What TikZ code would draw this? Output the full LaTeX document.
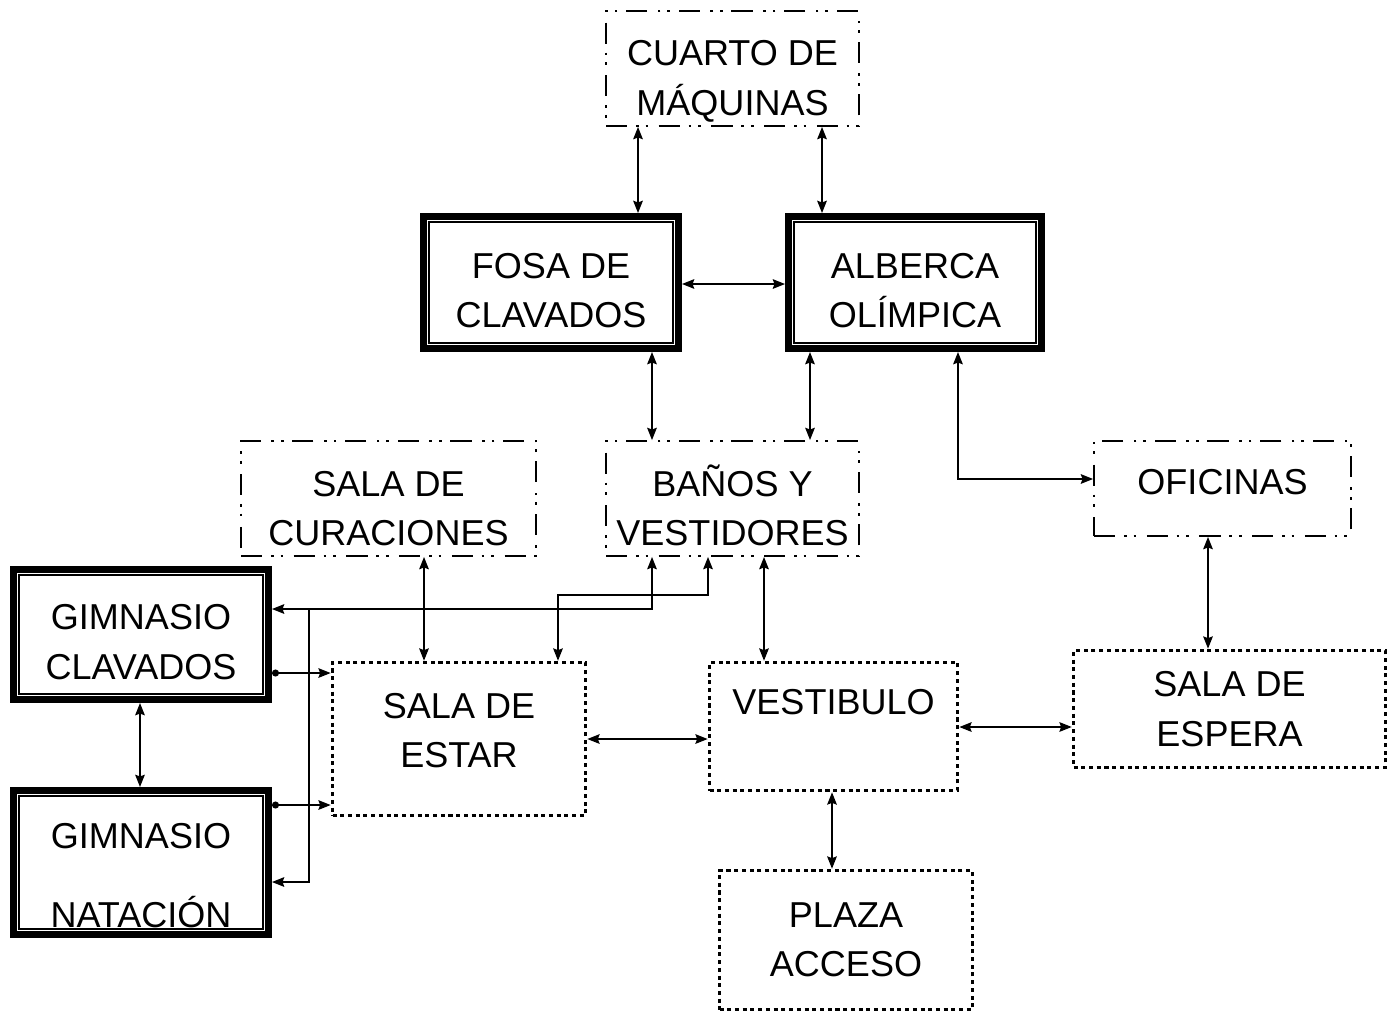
\documentclass[tikz,border=0pt]{standalone}
\usepackage{fontspec}
\setmainfont{Liberation Sans}
\usetikzlibrary{arrows.meta}

\begin{document}
\begin{tikzpicture}[
            x=0.02cm,
            y=-0.02cm,
            line cap=butt,
            >={Stealth[length=7pt,width=5.5pt,inset=1pt]},
            room/.style={
                align=center,
                inner sep=0pt,
                font=\fontsize{20.5}{28}\selectfont
            },
            heavybox/.style={
                room, draw, line width=4pt,
                path picture={
                    \draw[line width=0.8pt]
                        ([shift={(0.11cm,-0.11cm)}]path picture bounding box.north west)
                        rectangle
                        ([shift={(-0.11cm,0.11cm)}]path picture bounding box.south east);
                }
            },
            dashbox/.style={
                room, draw, line width=1.1pt,
                dash pattern=on 12pt off 5pt on 1.5pt off 4pt on 1.5pt off 6pt
            },
            dotbox/.style={
                room, draw, line width=2.1pt,
                dash pattern=on 2.3pt off 2.1pt
            },
            link/.style={<->, line width=0.8pt},
            dotlink/.style={{Circle[length=4pt]}->, line width=0.8pt}
        ]

        \useasboundingbox (0,0) rectangle (1399,1015);

        % Upper rooms
        \node[dashbox, text height=57pt, minimum width=5.06cm, minimum height=2.3cm]
            (cuarto) at (732.5,68.5) {CUARTO DE\\MÁQUINAS};
        \node[heavybox, text height=51.5pt, minimum width=5.1cm, minimum height=2.64cm]
            (fosa) at (551,282.5) {FOSA DE\\CLAVADOS};
        \node[heavybox, text height=51.5pt, minimum width=5.06cm, minimum height=2.64cm]
            (alberca) at (915,282.5) {ALBERCA\\OLÍMPICA};

        % Middle row
        \node[dashbox, text height=54pt, minimum width=5.9cm, minimum height=2.3cm]
            (curac) at (388.5,498.5) {SALA DE\\CURACIONES};
        \node[dashbox, text height=53.5pt, minimum width=5.06cm, minimum height=2.3cm]
            (banos) at (732.5,498.5) {BAÑOS Y\\VESTIDORES};
        \node[dashbox, text depth=8pt, minimum width=5.14cm, minimum height=1.9cm]
            (ofic) at (1222.5,488.5) {OFICINAS};

        % Gyms
        \node[heavybox, text height=51pt, minimum width=5.1cm, minimum height=2.6cm]
            (gimcla) at (141,634.5) {GIMNASIO\\CLAVADOS};
        \node[heavybox, text height=74pt, minimum width=5.1cm, minimum height=2.88cm]
            (gimnat) at (141,862.5) {GIMNASIO\\[17pt]NATACIÓN};

        % Lower rooms
        \node[dotbox, text depth=10pt, minimum width=5.06cm, minimum height=3.06cm]
            (estar) at (459,739) {SALA DE\\ESTAR};
        \node[dotbox, minimum width=4.96cm, minimum height=2.56cm]
            (vestib) at (833.5,726.5) {VESTIBULO\\\mbox{}};
        \node[dotbox, minimum width=6.24cm, minimum height=2.34cm]
            (espera) at (1229.5,709) {SALA DE\\ESPERA};
        \node[dotbox, minimum width=5.06cm, minimum height=2.78cm]
            (plaza) at (846,940) {PLAZA\\ACCESO};

        % Connections around the pools
        \draw[link] (cuarto.south -| 638,0) -- (fosa.north -| 638,0);
        \draw[link] (cuarto.south -| 822,0) -- (alberca.north -| 822,0);
        \draw[link] (fosa.east |- 0,284) -- (alberca.west |- 0,284);
        \draw[link] (fosa.south -| 652,0) -- (banos.north -| 652,0);
        \draw[link] (alberca.south -| 810,0) -- (banos.north -| 810,0);
        \draw[link] (alberca.south -| 958,0) |- (ofic.west |- 0,479);
        \draw[link] (ofic.south -| 1208,0) -- (espera.north -| 1208,0);

        % Connections of the lower rooms
        \draw[link] (vestib.east |- 0,727) -- (espera.west |- 0,727);
        \draw[link] (estar.east |- 0,739) -- (vestib.west |- 0,739);
        \draw[link] (vestib.south -| 832,0) -- (plaza.north -| 832,0);
        \draw[link] (banos.south -| 764,0) -- (vestib.north -| 764,0);
        \draw[link] (curac.south -| 424,0) -- (estar.north -| 424,0);
        \draw[link] (gimcla.south -| 140,0) -- (gimnat.north -| 140,0);

        % Routes from the dressing rooms
        \coordinate (junta) at (309,609);
        \draw[link] (banos.south -| 652,0) |- (gimcla.east |- 0,609);
        \draw[->, line width=0.8pt] (junta) |- (gimnat.east |- 0,882);
        \draw[link] (banos.south -| 708,0) |- (558,595)
            -- (estar.north -| 558,0);

        % Gyms to the lounge
        \draw[dotlink] (gimcla.east |- 0,673) -- (estar.west |- 0,673);
        \draw[dotlink] (gimnat.east |- 0,805) -- (estar.west |- 0,805);

        \end{tikzpicture}
\end{document}
